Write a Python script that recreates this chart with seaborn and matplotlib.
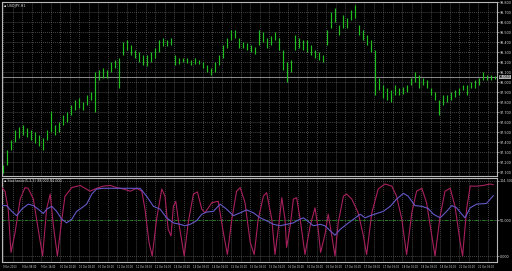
import matplotlib
matplotlib.use("Agg")
import matplotlib.pyplot as plt
import seaborn as sns
import numpy as np

# ---- price bars (high / low) ----
bar_high = [97.17, 97.32, 97.42, 97.52, 97.55, 97.57, 97.54, 97.52, 97.50, 97.47,
            97.44, 97.52, 97.71, 97.57, 97.60, 97.67, 97.70, 97.77, 97.82, 97.84,
            97.80, 97.87, 97.90, 98.10, 98.12, 98.14, 98.12, 98.20, 98.22, 98.24,
            98.40, 98.42, 98.37, 98.32, 98.30, 98.27, 98.27, 98.30, 98.34, 98.42,
            98.44, 98.42, 98.44, 98.27, 98.24, 98.24, 98.24, 98.22, 98.24, 98.22,
            98.20, 98.17, 98.14, 98.20, 98.27, 98.37, 98.44, 98.52, 98.52, 98.44,
            98.40, 98.39, 98.37, 98.35, 98.52, 98.50, 98.44, 98.46, 98.50, 98.44,
            98.32, 98.20, 98.22, 98.47, 98.44, 98.42, 98.42, 98.37, 98.32, 98.30,
            98.27, 98.52, 98.70, 98.74, 98.57, 98.67, 98.64, 98.72, 98.77, 98.57,
            98.52, 98.47, 98.42, 98.32, 98.04, 97.97, 97.94, 97.92, 97.97, 97.94,
            97.95, 97.97, 98.04, 98.10, 98.07, 98.04, 98.02, 97.94, 97.90, 97.82,
            97.87, 97.87, 97.90, 97.92, 97.94, 97.97, 97.97, 98.00, 98.02, 98.04,
            98.10, 98.07, 98.07, 98.06]
bar_low = [97.09, 97.17, 97.32, 97.40, 97.44, 97.47, 97.45, 97.42, 97.39, 97.36,
           97.32, 97.42, 97.50, 97.47, 97.50, 97.57, 97.60, 97.67, 97.72, 97.74,
           97.72, 97.77, 97.82, 97.70, 98.02, 98.04, 98.04, 98.10, 98.14, 97.94,
           98.27, 98.32, 98.27, 98.24, 98.20, 98.17, 98.16, 98.20, 98.24, 98.30,
           98.36, 98.36, 98.37, 98.17, 98.18, 98.20, 98.19, 98.17, 98.18, 98.18,
           98.14, 98.10, 98.07, 98.10, 98.17, 98.24, 98.34, 98.42, 98.44, 98.34,
           98.34, 98.32, 98.30, 98.28, 98.37, 98.40, 98.34, 98.37, 98.42, 98.32,
           98.12, 98.00, 98.10, 98.32, 98.34, 98.32, 98.30, 98.27, 98.24, 98.22,
           98.20, 98.37, 98.54, 98.60, 98.47, 98.54, 98.54, 98.62, 98.64, 98.47,
           98.42, 98.37, 98.30, 97.87, 97.92, 97.84, 97.82, 97.80, 97.87, 97.87,
           97.88, 97.90, 97.97, 98.00, 97.94, 97.97, 97.94, 97.87, 97.82, 97.67,
           97.77, 97.80, 97.82, 97.85, 97.87, 97.92, 97.87, 97.94, 97.94, 97.97,
           98.02, 98.02, 98.02, 98.03]
bid_price = 98.05

# ---- stochastic %K / %D (bar position, value) ----
k_pos = [-0.3, 0.5, 1.3, 2.0, 3.0, 4.3, 5.5, 6.3, 7.6, 8.8, 9.9, 10.9, 11.8, 12.6, 13.6,
         14.7, 15.5, 17.2, 19.3, 20.5, 21.8, 23.4, 25.1, 26.8, 28.4, 30.1, 31.8, 33.4,
         34.7, 35.5, 36.5, 37.3, 38.4, 39.7, 40.5, 41.3, 42.0, 42.6, 43.2, 43.8, 45.3,
         46.3, 47.6, 48.6, 49.7, 50.5, 52.2, 53.8, 55.1, 56.1, 57.2, 58.4, 59.3, 60.5,
         61.8, 62.8, 63.8, 65.1, 65.9, 67.2, 68.0, 69.0, 69.7, 70.5, 70.9, 71.8, 72.6,
         73.4, 74.3, 75.5, 76.8, 78.0, 78.8, 79.4, 80.5, 81.3, 82.2, 83.0, 83.8, 85.1,
         85.9, 87.2, 88.8, 90.1, 90.9, 92.2, 93.8, 95.5, 97.2, 98.4, 99.7, 100.9, 102.2,
         103.4, 104.7, 105.9, 107.2, 108.0, 109.3, 110.5, 111.8, 113.0, 114.3, 114.9,
         115.9, 116.8, 118.4, 120.1, 121.8, 122.6]
k_val = [95, 90, 65, 5, 32, 79, 95, 94, 79, 37, 0, 65, 86, 42, 0, 51, 83, 95, 98, 94,
         90, 94, 97, 98, 95, 93, 90, 94, 90, 65, 19, 0, 51, 93, 83, 37, 28, 69, 76, 51,
         0, 46, 86, 89, 65, 60, 74, 76, 32, 2, 51, 90, 95, 74, 19, 2, 51, 83, 88, 51,
         2, 46, 81, 51, 12, 42, 79, 81, 51, 2, 42, 67, 37, 5, 30, 58, 28, 0, 46, 83,
         86, 79, 60, 28, 2, 60, 93, 100, 97, 83, 51, 2, 60, 90, 94, 74, 28, 0, 56, 90,
         94, 69, 19, 0, 65, 97, 97, 98, 100, 99]
d_pos = [-0.3, 0.9, 2.2, 3.4, 4.7, 6.3, 7.6, 8.8, 10.1, 10.9, 12.2, 13.4, 14.7, 15.9,
         17.2, 18.4, 19.7, 20.9, 22.2, 23.4, 25.1, 27.6, 30.1, 32.6, 34.3, 35.9, 37.6,
         39.3, 40.9, 42.6, 44.3, 45.5, 46.8, 48.4, 49.7, 50.9, 52.6, 54.3, 55.9, 57.6,
         59.3, 60.9, 62.6, 64.3, 65.9, 67.6, 69.3, 70.9, 72.6, 73.8, 75.1, 76.3, 77.6,
         79.3, 80.5, 81.8, 83.0, 84.3, 85.9, 87.6, 89.3, 90.5, 91.8, 93.4, 95.1, 96.8,
         98.4, 100.1, 101.3, 103.0, 104.7, 106.3, 107.6, 109.3, 110.9, 112.2, 113.4,
         114.7, 115.5, 116.8, 118.4, 120.9, 122.6]
d_val = [70, 70, 62, 56, 65, 72, 70, 65, 59, 65, 69, 62, 51, 46, 51, 62, 67, 72, 86, 93,
         94, 94, 94, 94, 94, 83, 69, 65, 53, 46, 44, 42, 44, 49, 58, 61, 62, 72, 65, 56,
         60, 64, 60, 53, 49, 44, 42, 44, 46, 50, 53, 48, 42, 44, 42, 35, 29, 37, 44, 51,
         58, 53, 56, 59, 62, 69, 79, 87, 83, 70, 69, 66, 58, 53, 62, 70, 67, 58, 53, 67,
         72, 73, 84]
stoch_level = 50

# ---- axis labels ----
price_ticks = [97.1, 97.2, 97.3, 97.4, 97.5, 97.6, 97.7, 97.8, 97.9, 98.0,
               98.1, 98.2, 98.3, 98.4, 98.5, 98.6, 98.7, 98.8]
time_pos = [0, 4.8, 9.5, 14.3, 19, 23.8, 28.5, 33.3, 38, 42.8, 47.5, 52.3, 57,
            61.8, 66.5, 71.3, 76, 80.8, 85.5, 90.3, 95, 99.8, 104.5, 109.3, 114, 118.8]
time_labels = ["9 Oct 2013", "9 Oct 08:00", "9 Oct 16:00",
               "10 Oct 00:00", "10 Oct 08:00", "10 Oct 16:00",
               "11 Oct 00:00", "11 Oct 08:00", "11 Oct 16:00",
               "14 Oct 00:00", "14 Oct 08:00", "14 Oct 16:00",
               "15 Oct 00:00", "15 Oct 08:00", "15 Oct 16:00",
               "16 Oct 00:00", "16 Oct 08:00", "16 Oct 16:00",
               "17 Oct 00:00", "17 Oct 08:00", "17 Oct 16:00",
               "18 Oct 00:00", "18 Oct 08:00", "18 Oct 16:00",
               "21 Oct 00:00", "21 Oct 08:00"]
title_main = "\u25aa USDJPY,H1"
title_ind = "\u25aa Stochastic(5,3,3) 99.000 84.000"

# ---- style ----
sns.set_theme(style="dark", rc={
    "axes.facecolor": "black", "figure.facecolor": "black",
    "axes.edgecolor": "#b8b8b8", "axes.linewidth": 0.8,
    "grid.color": "#6e6e6e", "grid.linestyle": ":", "grid.linewidth": 0.55,
    "text.color": "#d8d8d8", "xtick.color": "#d8d8d8", "ytick.color": "#d8d8d8",
})
plt.rcParams["font.family"] = ["DejaVu Sans"]

fig = plt.figure(figsize=(5.12, 2.71), dpi=100)
ax1 = fig.add_axes([2 / 512, 95 / 271, 495 / 512, 174 / 271])
ax2 = fig.add_axes([2 / 512, 9 / 271, 495 / 512, 84 / 271])

xmin, xmax = -0.25, 123.5
mid_pos = [p + 2.4 for p in time_pos]
fs_y = 2.4
fs_x = 1.8

# main panel
idx = np.arange(len(bar_high))
ax1.vlines(idx, bar_low, bar_high, color="#1fc01f", linewidth=0.85, zorder=3)
ax1.axhline(bid_price, color="#8c8c8c", linewidth=0.7, zorder=2)
ax1.set_xlim(xmin, xmax)
ax1.set_ylim(97.06, 98.80)
ax1.yaxis.tick_right()
ax1.set_yticks(price_ticks)
ax1.set_yticklabels([f"{t:.3f}" for t in price_ticks])
ax1.set_xticks(time_pos)
ax1.set_xticks(mid_pos, minor=True)
ax1.set_xticklabels([])
ax1.tick_params(axis="y", labelsize=fs_y, length=1.2, width=0.4, pad=0.6,
                direction="out", right=True, left=False)
ax1.tick_params(axis="x", which="both", length=0)
ax1.grid(True, which="both", axis="both")
ax1.text(0.004, 0.99, title_main, transform=ax1.transAxes, fontsize=2.4,
         va="top", ha="left", color="#e0e0e0")
ax1.text(1.004, (bid_price - 97.06) / (98.80 - 97.06), f"{bid_price:.3f}",
         transform=ax1.transAxes, fontsize=fs_y, va="center", ha="left",
         color="black", bbox=dict(boxstyle="square,pad=0.1", fc="#b0b0b0", ec="none"))

# indicator panel
sns.lineplot(x=k_pos, y=k_val, ax=ax2, color="#a8205e", linewidth=0.8, zorder=3)
sns.lineplot(x=d_pos, y=d_val, ax=ax2, color="#6458c8", linewidth=0.8, zorder=3)
ax2.axhline(stoch_level, color="#1e8c1e", linewidth=0.6, linestyle=(0, (4, 2, 1, 2)), zorder=2)
ylo, yhi = -8.3, 108.3
ax2.set_xlim(xmin, xmax)
ax2.set_ylim(ylo, yhi)
ax2.yaxis.tick_right()
ind_ticks = [0, 50, yhi - 4]
ax2.set_yticks(ind_ticks)
ax2.set_yticklabels([f"{t:.3f}" for t in ind_ticks])
ax2.set_xticks(time_pos)
ax2.set_xticks(mid_pos, minor=True)
ax2.set_xticklabels(time_labels, ha="left")
ax2.tick_params(axis="x", labelsize=fs_x, length=1.2, width=0.4, pad=0.8, direction="out")
ax2.tick_params(axis="x", which="minor", length=0)
ax2.tick_params(axis="y", labelsize=fs_y, length=1.2, width=0.4, pad=0.6,
                right=True, left=False)
ax2.grid(True, which="both", axis="x")
ax2.grid(True, axis="y")
ax2.set_xlabel("")
ax2.set_ylabel("")
ax2.text(0.004, 0.985, title_ind, transform=ax2.transAxes, fontsize=2.4,
         va="top", ha="left", color="#e0e0e0")

fig.savefig("out.png", dpi=100, facecolor="black")
